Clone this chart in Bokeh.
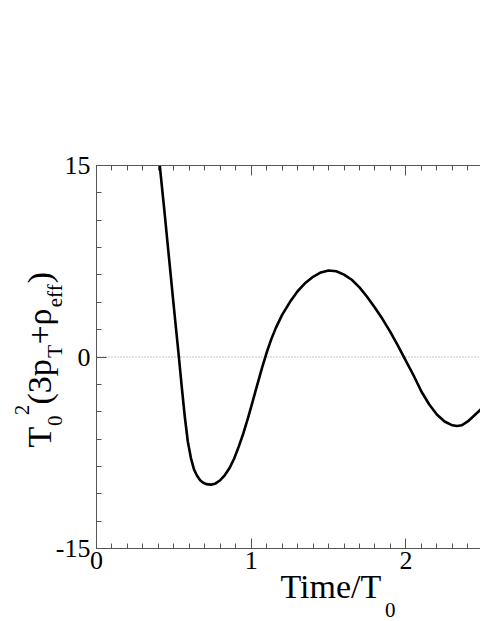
import math
from bokeh.plotting import figure
from bokeh.models import Range1d, LinearAxis, SingleIntervalTicker, Label
from bokeh.embed import file_html
from bokeh.resources import INLINE

# ---- data ----
time_t0 = [0.409, 0.44, 0.47, 0.50, 0.53, 0.55, 0.57, 0.59, 0.61, 0.63, 0.65, 0.67,
           0.69, 0.71, 0.74, 0.77, 0.80, 0.83, 0.86, 0.89, 0.92, 0.95, 0.98, 1.01,
           1.04, 1.07, 1.10, 1.13, 1.16, 1.20, 1.25, 1.30, 1.35, 1.40, 1.45, 1.50,
           1.55, 1.60, 1.65, 1.70, 1.75, 1.80, 1.85, 1.90, 1.95, 2.00, 2.05, 2.10,
           2.15, 2.20, 2.25, 2.30, 2.33, 2.36, 2.40, 2.44, 2.48, 2.50]
pressure = [15.0, 11.3, 7.6, 3.9, 0.3, -2.2, -4.6, -6.6, -7.9, -8.8, -9.3, -9.65,
            -9.85, -9.96, -10.0, -9.9, -9.65, -9.25, -8.7, -7.95, -7.0, -5.95, -4.75, -3.45,
            -2.15, -0.85, 0.35, 1.4, 2.3, 3.3, 4.3, 5.15, 5.8, 6.28, 6.62, 6.78,
            6.72, 6.45, 6.05, 5.45, 4.7, 3.85, 2.95, 1.95, 0.85, -0.3, -1.45, -2.7,
            -3.7, -4.5, -5.05, -5.35, -5.41, -5.35, -5.05, -4.6, -4.15, -3.9]
x_limits = [0, 2.482]
y_limits = [-15, 15]
x_tick_step = 1
y_tick_step = 15

# ---- page geometry (pixels) ----
W, H = 480, 621
FRAME_LEFT, X_ONE = 96.0, 250.7          # pixel of x=0 and x=1
FRAME_TOP, FRAME_BOTTOM = 165.0, 548.0   # pixel of y=15 and y=-15
px_x = X_ONE - FRAME_LEFT
px_y = (FRAME_BOTTOM - FRAME_TOP) / (y_limits[1] - y_limits[0])
x0 = x_limits[0] - FRAME_LEFT / px_x
x1 = x0 + W / px_x
y1 = y_limits[1] + FRAME_TOP / px_y
y0 = y1 - H / px_y

FONT = "Liberation Serif"
AXIS_COLOR = "#555555"

p = figure(width=W, height=H, output_backend="svg", toolbar_location=None,
           x_range=Range1d(x0, x1), y_range=Range1d(y0, y1),
           x_axis_location=None, y_axis_location=None,
           min_border=0, outline_line_color=None,
           background_fill_color="white", border_fill_color="white")
p.xgrid.visible = False
p.ygrid.visible = False


def style_axis(ax, show_labels=True):
    ax.axis_line_color = AXIS_COLOR
    ax.axis_line_width = 1
    ax.major_tick_line_color = AXIS_COLOR
    ax.minor_tick_line_color = AXIS_COLOR
    ax.major_tick_in = 10
    ax.major_tick_out = 0
    ax.minor_tick_in = 5
    ax.minor_tick_out = 0
    ax.major_label_text_font = FONT
    ax.major_label_text_font_size = "26px"
    ax.major_label_text_color = "black" if show_labels else None


bottom = LinearAxis(ticker=SingleIntervalTicker(interval=x_tick_step, num_minor_ticks=10),
                    fixed_location=y_limits[0], bounds=tuple(x_limits))
style_axis(bottom)
bottom.major_label_standoff = 3
p.add_layout(bottom, "below")

top = LinearAxis(ticker=SingleIntervalTicker(interval=x_tick_step, num_minor_ticks=10),
                 fixed_location=y_limits[1], bounds=tuple(x_limits))
style_axis(top, show_labels=False)
p.add_layout(top, "above")

left = LinearAxis(ticker=SingleIntervalTicker(interval=y_tick_step, num_minor_ticks=7),
                  fixed_location=x_limits[0], bounds=tuple(y_limits))
style_axis(left)
left.major_label_standoff = 6
left.major_label_overrides = {-15: "-15"}
p.add_layout(left, "left")

# zero reference line
p.line(x_limits, [0, 0], line_color="#888888", line_width=1, line_dash="1 2")

p.line(time_t0, pressure, line_color="black", line_width=2.6)


# ---- axis titles built from pieces (sub/superscripts) ----
def piece(text, img_x, img_y, size, angle=0.0):
    p.add_layout(Label(x=img_x, y=H - img_y, x_units="screen", y_units="screen",
                       text=text, text_font=FONT, text_font_size=f"{size}px",
                       text_color="black", text_align="left",
                       text_baseline="alphabetic", angle=angle))


# x title: Time/T_0
piece("Time/T", 280, 586, 34)
piece("0", 384.5, 609.5, 21)

# y title: T_0^2(3p_T+rho_eff), rotated, reading upwards
A = math.pi / 2
piece("T", 39, 447, 34, A)
piece("0", 54, 425.6, 21, A)
piece("2", 21, 414.8, 21, A)
piece("(3p", 39, 404, 34, A)
piece("T", 54, 357.3, 21, A)
piece("+\u03c1", 39, 344.1, 34, A)
piece("eff", 54, 306.8, 21, A)
piece(")", 39, 282.8, 34, A)

open("out.html", "w").write(file_html(p, INLINE))
